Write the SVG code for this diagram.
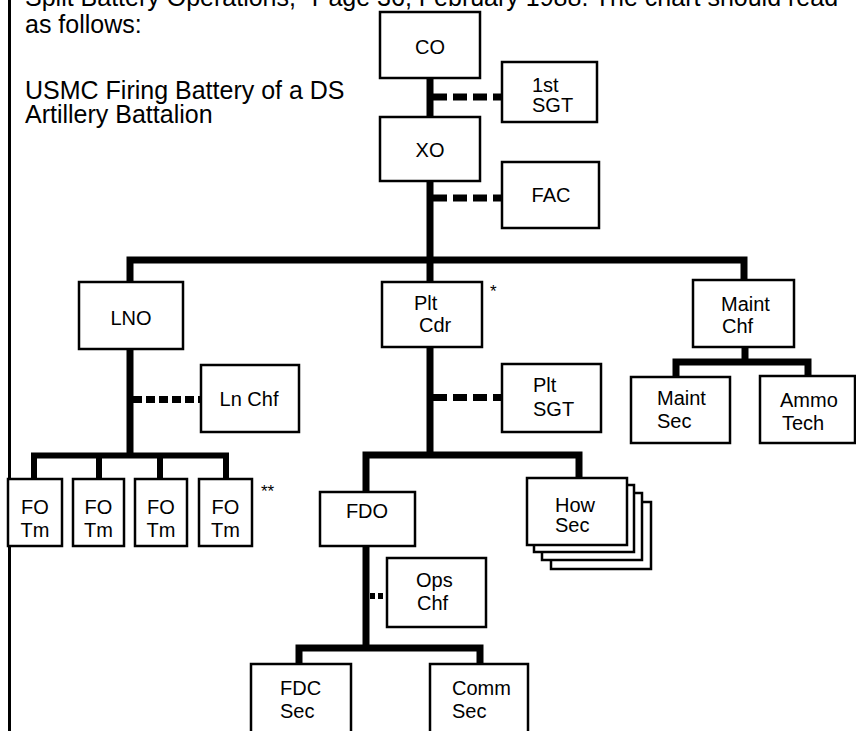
<svg xmlns="http://www.w3.org/2000/svg" width="856" height="731" viewBox="0 0 856 731">
<style>
  .hdr { font-family: "Liberation Sans", Arial, sans-serif; font-size: 25px; fill: #000; }
  .lbl { font-family: "Liberation Sans", Arial, sans-serif; font-size: 20px; fill: #000; }
  .c { text-anchor: middle; }
  .box { fill: #fff; stroke: #000; stroke-width: 2.5; }
  .bar { fill: none; stroke: #000; stroke-width: 7; stroke-linejoin: miter; stroke-linecap: butt; }
  .bar6 { fill: none; stroke: #000; stroke-width: 6; stroke-linejoin: miter; }
  .dash { fill: none; stroke: #000; stroke-width: 7; stroke-dasharray: 14 6; }
  .dash2 { fill: none; stroke: #000; stroke-width: 7; stroke-dasharray: 9 4; }
  .dot { fill: none; stroke: #000; stroke-width: 6; stroke-dasharray: 5 3; }
  .ast { font-family: "Liberation Sans", Arial, sans-serif; font-size: 17px; fill: #000; }
</style>
<rect x="0" y="0" width="856" height="731" fill="#fff"/>
<line x1="9.5" y1="0" x2="9.5" y2="731" stroke="#000" stroke-width="3"/>
<g id="header">
  <text class="hdr" x="25" y="6">Split Battery Operations," Page 36, February 1988. The chart should read</text>
  <text class="hdr" x="25" y="33">as follows:</text>
  <text class="hdr"><tspan x="25" y="99">USMC Firing Battery of a DS</tspan><tspan x="25" y="123">Artillery Battalion</tspan></text>
</g>
<g id="connectors">
  <path class="bar" d="M430 78 V455"/>
  <path class="bar" d="M130 282 V260 H744 V280"/>
  <path class="bar" d="M130 349 V455"/>
  <path class="bar6" d="M34 479 V455.5 H226 V479"/>
  <path class="bar6" d="M99 455 V479 M160 455 V479"/>
  <path class="bar" d="M366 492 V455 H579 V478"/>
  <path class="bar" d="M366 546 V648"/>
  <path class="bar" d="M299 664 V648 H480 V664"/>
  <path class="bar" d="M745 347 V362"/>
  <path class="bar" d="M676 377 V362 H808 V377"/>
  <path class="dash" d="M433 97 H502"/>
  <path class="dash" d="M433 198 H502"/>
  <path class="dash2" d="M133 399.5 H201"/>
  <path class="dash" d="M433 397.5 H502"/>
  <path class="dot" d="M370 596 H387"/>
</g>
<g id="CO"><rect class="box" x="380" y="12" width="100" height="66"/><text class="lbl c" x="430" y="54">CO</text></g>
<g id="FirstSGT"><rect class="box" x="502" y="62" width="95" height="60"/><text class="lbl" x="532" y="92">1st</text><text class="lbl" x="532" y="112">SGT</text></g>
<g id="XO"><rect class="box" x="380" y="117" width="100" height="64"/><text class="lbl c" x="430" y="157">XO</text></g>
<g id="FAC"><rect class="box" x="502" y="162" width="97" height="66"/><text class="lbl c" x="551" y="202">FAC</text></g>
<g id="LNO"><rect class="box" x="79" y="282" width="104" height="67"/><text class="lbl c" x="131" y="325">LNO</text></g>
<g id="PltCdr"><rect class="box" x="382" y="282" width="100" height="65"/><text class="lbl" x="414" y="310">Plt</text><text class="lbl" x="419" y="332">Cdr</text></g>
<g id="MaintChf"><rect class="box" x="693" y="280" width="101" height="67"/><text class="lbl" x="721" y="311">Maint</text><text class="lbl" x="722" y="333">Chf</text></g>
<g id="LnChf"><rect class="box" x="201" y="365" width="98" height="67"/><text class="lbl c" x="249" y="406">Ln Chf</text></g>
<g id="PltSGT"><rect class="box" x="502" y="364" width="99" height="68"/><text class="lbl" x="533" y="392">Plt</text><text class="lbl" x="533" y="416">SGT</text></g>
<g id="MaintSec"><rect class="box" x="631" y="377" width="99" height="66"/><text class="lbl" x="657" y="405">Maint</text><text class="lbl" x="657" y="428">Sec</text></g>
<g id="AmmoTech"><rect class="box" x="760" y="376" width="95" height="67"/><text class="lbl" x="780" y="407">Ammo</text><text class="lbl" x="782" y="430">Tech</text></g>
<g id="FO1"><rect class="box" x="8" y="479" width="54" height="67"/><text class="lbl c" x="35" y="514">FO</text><text class="lbl c" x="35" y="537">Tm</text></g>
<g id="FO2"><rect class="box" x="73" y="479" width="51" height="67"/><text class="lbl c" x="98.5" y="514">FO</text><text class="lbl c" x="98.5" y="537">Tm</text></g>
<g id="FO3"><rect class="box" x="135" y="479" width="52" height="67"/><text class="lbl c" x="161" y="514">FO</text><text class="lbl c" x="161" y="537">Tm</text></g>
<g id="FO4"><rect class="box" x="199" y="479" width="53" height="67"/><text class="lbl c" x="225.5" y="514">FO</text><text class="lbl c" x="225.5" y="537">Tm</text></g>
<g id="notes"><text class="ast" x="261" y="497">**</text><text class="ast" x="490" y="297">*</text></g>
<g id="FDO"><rect class="box" x="320" y="492" width="95" height="54"/><text class="lbl c" x="367" y="518">FDO</text></g>
<g id="HowSec">
  <rect class="box" x="551" y="502" width="100" height="67"/>
  <rect class="box" x="542" y="493" width="100" height="67"/>
  <rect class="box" x="534" y="485" width="100" height="67"/>
  <rect class="box" x="527" y="478" width="100" height="67"/>
  <text class="lbl" x="555" y="512">How</text><text class="lbl" x="555" y="532">Sec</text>
</g>
<g id="OpsChf"><rect class="box" x="387" y="558" width="99" height="69"/><text class="lbl" x="416" y="587">Ops</text><text class="lbl" x="417" y="610">Chf</text></g>
<g id="FDCSec"><rect class="box" x="251" y="664" width="100" height="80"/><text class="lbl" x="280" y="695">FDC</text><text class="lbl" x="280" y="718">Sec</text></g>
<g id="CommSec"><rect class="box" x="430" y="664" width="98" height="80"/><text class="lbl" x="452" y="695">Comm</text><text class="lbl" x="452" y="718">Sec</text></g>
</svg>
